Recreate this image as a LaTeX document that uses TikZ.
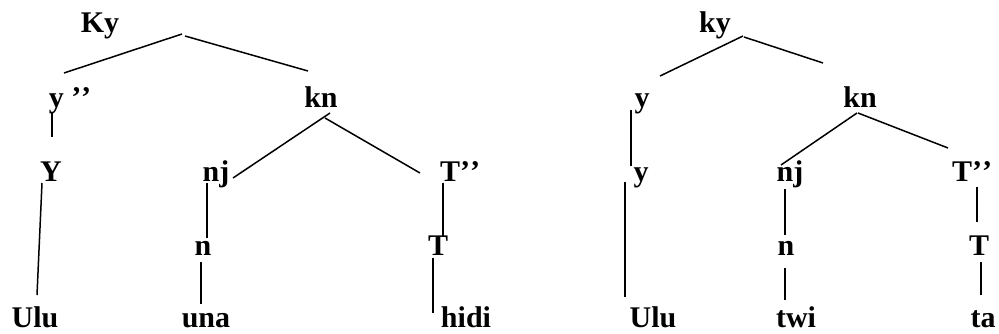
\documentclass[tikz,border=0pt]{standalone}
\usepackage{fontspec}
\setmainfont{Liberation Serif}
\usepackage{tikz}
\newcommand{\qq}{’\kern0pt’}

\begin{document}
\begin{tikzpicture}[
    x=1pt, y=-1pt,
    lbl/.style={anchor=base, inner sep=0pt,
                font=\fontsize{30}{36}\selectfont\bfseries},
    edge/.style={line width=1.5pt},
  ]
    \useasboundingbox (0,0) rectangle (999,334);

    % Left tree
    \node[lbl] (Ky)   at (100, 33)  {Ky};
    \node[lbl] (yq)   at (70, 108)  {y \qq};
    \node[lbl] (kn)   at (321, 108) {kn};
    \node[lbl] (Y)    at (51, 182)  {Y};
    \node[lbl] (nj)   at (216, 182) {nj};
    \node[lbl] (Tq)   at (460, 182) {T\qq};
    \node[lbl] (n)    at (203, 255) {n};
    \node[lbl] (T)    at (438, 255) {T};
    \node[lbl] (Ulu)  at (35, 327)  {Ulu};
    \node[lbl] (una)  at (206, 327) {una};
    \node[lbl] (hidi) at (466, 327) {hidi};

    % Right tree
    \node[lbl] (ky)   at (715, 33)  {ky};
    \node[lbl] (y)    at (642, 108) {y};
    \node[lbl] (kn2)  at (860, 108) {kn};
    \node[lbl] (y2)   at (641, 182) {y};
    \node[lbl] (nj2)  at (790, 182) {nj};
    \node[lbl] (Tq2)  at (972, 182) {T\qq};
    \node[lbl] (n2)   at (786, 255) {n};
    \node[lbl] (T2)   at (979, 255) {T};
    \node[lbl] (Ulu2) at (653, 327) {Ulu};
    \node[lbl] (twi)  at (796, 327) {twi};
    \node[lbl] (ta)   at (983, 327) {ta};

    % branches, left
    \draw[edge] ([shift={(82,1)}]Ky.base)  -- ([shift={(-6,-35)}]yq.base);
    \draw[edge] ([shift={(85,3)}]Ky.base)  -- ([shift={(-13,-37)}]kn.base);
    \draw[edge] ([shift={(-18,4)}]yq.base) -- ([shift={(1,-45)}]Y.base);
    \draw[edge] ([shift={(9,5)}]kn.base)   -- ([shift={(17,-4)}]nj.base);
    \draw[edge] ([shift={(4,10)}]kn.base)  -- ([shift={(-40,-9)}]Tq.base);
    \draw[edge] ([shift={(-9,1)}]Y.base)   -- ([shift={(2,-32)}]Ulu.base);
    \draw[edge] ([shift={(-9,1)}]nj.base)  -- ([shift={(4,-17)}]n.base);
    \draw[edge] ([shift={(-2,7)}]n.base)   -- ([shift={(-5,-23)}]una.base);
    \draw[edge] ([shift={(-17,1)}]Tq.base) -- ([shift={(5,-18)}]T.base);
    \draw[edge] ([shift={(-5,3)}]T.base)   -- ([shift={(-33,-14)}]hidi.base);

    % branches, right
    \draw[edge] ([shift={(28,3)}]ky.base)   -- ([shift={(18,-32)}]y.base);
    \draw[edge] ([shift={(29,4)}]ky.base)   -- ([shift={(-37,-45)}]kn2.base);
    \draw[edge] ([shift={(-11,2)}]y.base)   -- ([shift={(-10,-16)}]y2.base);
    \draw[edge] ([shift={(-3,5)}]kn2.base)  -- ([shift={(-9,-17)}]nj2.base);
    \draw[edge] ([shift={(-2,5)}]kn2.base)  -- ([shift={(-24,-34)}]Tq2.base);
    \draw[edge] ([shift={(-16,0)}]y2.base)  -- ([shift={(-28,-30)}]Ulu2.base);
    \draw[edge] ([shift={(-5,7)}]nj2.base)  -- ([shift={(-1,-20)}]n2.base);
    \draw[edge] ([shift={(-1,13)}]n2.base)  -- ([shift={(-11,-27)}]twi.base);
    \draw[edge] ([shift={(5,5)}]Tq2.base)   -- ([shift={(-2,-33)}]T2.base);
    \draw[edge] ([shift={(2,7)}]T2.base)    -- ([shift={(-2,-32)}]ta.base);
\end{tikzpicture}
\end{document}
